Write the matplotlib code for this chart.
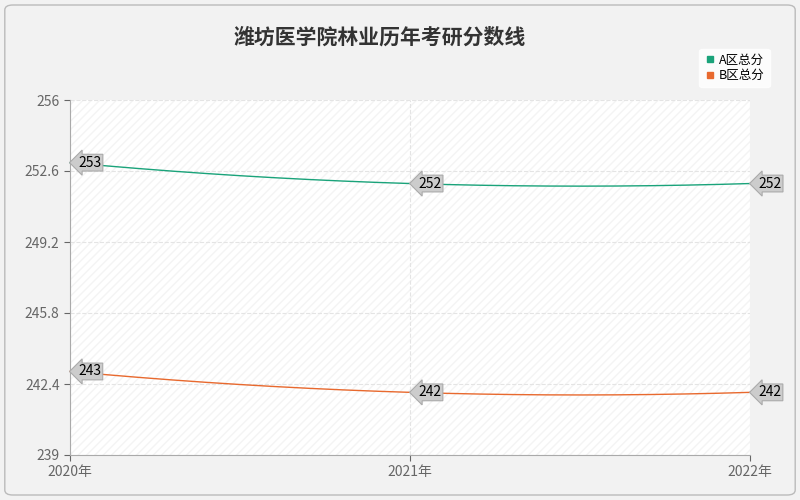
import numpy as np
import matplotlib.pyplot as plt
from matplotlib.patches import FancyBboxPatch

plt.rcParams['font.family'] = ['Noto Sans CJK SC', 'DejaVu Sans']

years = ['2020年', '2021年', '2022年']
a_scores = [253, 252, 252]
b_scores = [243, 242, 242]
series_names = ['A区总分', 'B区总分']
colors = ['#1aa37a', '#e8692e']
yticks = [239, 242.4, 245.8, 249.2, 252.6, 256]

fig = plt.figure(figsize=(8, 5), dpi=100, facecolor='#f2f2f2')
border = FancyBboxPatch((0.006, 0.01), 0.988, 0.98, boxstyle='round,pad=0,rounding_size=0.01',
                        transform=fig.transFigure, fc='#f2f2f2', ec='#bbbbbb', lw=1, zorder=-10)
fig.patches.append(border)
ax = fig.add_axes([0.0875, 0.09, 0.85, 0.71])
ax.set_facecolor('white')
ax.patch.set_hatch('////')
ax.patch.set_edgecolor('#f4f4f4')

x = np.arange(len(years))
xs = np.linspace(0, 2, 200)
for vals, c in zip([a_scores, b_scores], colors):
    coef = np.polyfit(x, vals, 2)
    ax.plot(xs, np.polyval(coef, xs), color=c, lw=1, clip_on=False)
    for xi, v in zip(x, vals):
        ax.annotate(str(v), (xi, v), xytext=(6, 0), textcoords='offset points', va='center', ha='left',
                    fontsize=10, color='black', annotation_clip=False,
                    bbox=dict(boxstyle='larrow,pad=0.1', fc='#cccccc', ec='#aaaaaa', lw=0.8))

ax.set_xlim(0, 2)
ax.set_ylim(239, 256)
ax.set_xticks(x)
ax.set_xticklabels(years)
ax.set_yticks(yticks)
ax.set_yticklabels([f'{t:g}' for t in yticks])
ax.tick_params(colors='#666666', labelsize=10, length=4)
ax.grid(True, color='#e4e4e4', ls='--', lw=0.8)
for s in ['top', 'right']:
    ax.spines[s].set_visible(False)
for s in ['left', 'bottom']:
    ax.spines[s].set_color('#aaaaaa')

fig.text(0.475, 0.925, '潍坊医学院林业历年考研分数线', ha='center', va='center', fontsize=15, fontweight='bold', color='#333333')
leg = fig.legend([plt.Line2D([], [], marker='s', ls='', color=c, markersize=4) for c in colors], series_names,
                 loc='upper right', bbox_to_anchor=(0.97, 0.915), fontsize=9, frameon=True,
                 handletextpad=0.2, borderpad=0.4, labelspacing=0.2, handlelength=1)
leg.get_frame().set_edgecolor('white')
fig.savefig('out.png', facecolor=fig.get_facecolor())
